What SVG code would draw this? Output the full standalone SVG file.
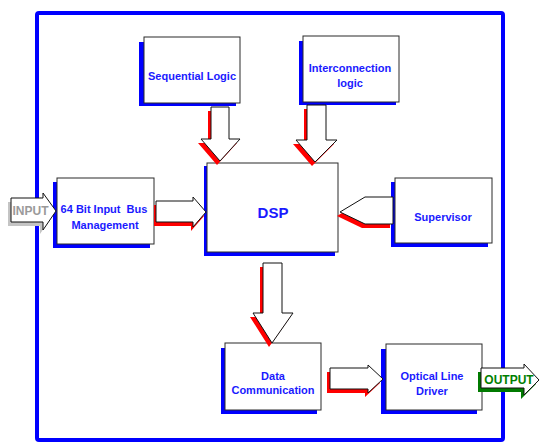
<svg xmlns="http://www.w3.org/2000/svg" width="540" height="442" viewBox="0 0 540 442">
<style>
.sh{fill:#0000ff}
.bx{fill:#ffffff;stroke:#2a2a2a;stroke-width:1}
.t{font-family:"Liberation Sans",Arial,sans-serif;font-weight:bold;font-size:11px;fill:#1a1aff;text-anchor:middle}
.ar{fill:#ffffff;stroke:#111111;stroke-width:1;stroke-linejoin:miter}
.rs{fill:#ff0000}
</style>
<rect width="540" height="442" fill="#ffffff"/>
<rect x="37" y="13" width="466" height="427" rx="2" fill="none" stroke="#0000ff" stroke-width="4"/>

<g id="seq">
<rect class="sh" x="139" y="42" width="97" height="64"/>
<rect class="bx" x="144" y="37" width="96" height="66"/>
<text class="t" x="192" y="80">Sequential Logic</text>
</g>
<g id="inter">
<rect class="sh" x="299" y="41" width="97" height="64"/>
<rect class="bx" x="303" y="36" width="96" height="66"/>
<text class="t" x="350" y="72">Interconnection</text>
<text class="t" x="350" y="87">logic</text>
</g>
<g id="dsp">
<rect class="sh" x="204" y="166" width="131" height="90"/>
<rect class="bx" x="207" y="163" width="131" height="89"/>
<text class="t" x="273" y="218" style="font-size:15px">DSP</text>
</g>
<g id="bus">
<rect class="sh" x="53" y="182" width="97" height="66"/>
<rect class="bx" x="57" y="178" width="97" height="66"/>
<text class="t" x="104" y="213" xml:space="preserve" style="white-space:pre">64 Bit Input  Bus</text>
<text class="t" x="105" y="229">Management</text>
</g>
<g id="sup">
<rect class="sh" x="391" y="182" width="97" height="65"/>
<rect class="bx" x="395" y="178" width="97" height="65"/>
<text class="t" x="443" y="221">Supervisor</text>
</g>
<g id="data">
<rect class="sh" x="221" y="348" width="96" height="66"/>
<rect class="bx" x="225" y="343" width="96" height="67"/>
<text class="t" x="273" y="380">Data</text>
<text class="t" x="273" y="394">Communication</text>
</g>
<g id="opt">
<rect class="sh" x="381" y="349" width="96" height="65"/>
<rect class="bx" x="386" y="344" width="96" height="66"/>
<text class="t" x="432" y="380">Optical Line</text>
<text class="t" x="432" y="395">Driver</text>
</g>

<g id="connectors">
<g id="a-seq">
<polygon class="rs" transform="translate(-3,4)" points="211,107 229,107 229,139 240,139 220,161 201,139 211,139"/>
<polygon class="ar" points="211,107 229,107 229,139 240,139 220,161 201,139 211,139"/>
</g>
<g id="a-inter">
<polygon class="rs" transform="translate(-3,4)" points="307,105 326,105 326,140 337,140 315,162 296,140 307,140"/>
<polygon class="ar" points="307,105 326,105 326,140 337,140 315,162 296,140 307,140"/>
</g>
<g id="a-bus">
<polygon class="rs" transform="translate(-2,4)" points="156,201 193,201 193,197 206,212 193,227 193,222 156,222"/>
<polygon class="ar" points="156,201 193,201 193,197 206,212 193,227 193,222 156,222"/>
</g>
<g id="a-sup">
<polygon class="rs" transform="translate(-3,4)" points="340,212 365,197 393,197 393,224 365,224"/>
<polygon class="ar" points="340,212 365,197 393,197 393,224 365,224"/>
</g>
<g id="a-dsp">
<polygon class="rs" transform="translate(-3,4)" points="263,263 282,263 282,313 293,313 272,343 253,313 263,313"/>
<polygon class="ar" points="263,263 282,263 282,313 293,313 272,343 253,313 263,313"/>
</g>
<g id="a-data">
<polygon class="rs" transform="translate(-3,4)" points="330,368 368,368 368,365 383,379 368,393 368,389 330,389"/>
<polygon class="ar" points="330,368 368,368 368,365 383,379 368,393 368,389 330,389"/>
</g>
<g id="a-input">
<polygon fill="#c4c4c4" transform="translate(-3,4)" points="11,198 43,198 43,193 56,211 43,230 43,222 11,222"/>
<polygon class="ar" points="11,198 43,198 43,193 56,211 43,230 43,222 11,222"/>
<text class="t" x="30.5" y="215" style="font-size:12px;fill:#9a9a9a">INPUT</text>
</g>
<g id="a-output">
<polygon fill="#007a00" transform="translate(-3,4)" points="481,368 524,368 524,364 539,380 524,395 524,388 481,388"/>
<polygon class="ar" points="481,368 524,368 524,364 539,380 524,395 524,388 481,388"/>
<text class="t" x="509" y="384" style="font-size:12px;fill:#008000">OUTPUT</text>
</g>
</g>
</svg>
